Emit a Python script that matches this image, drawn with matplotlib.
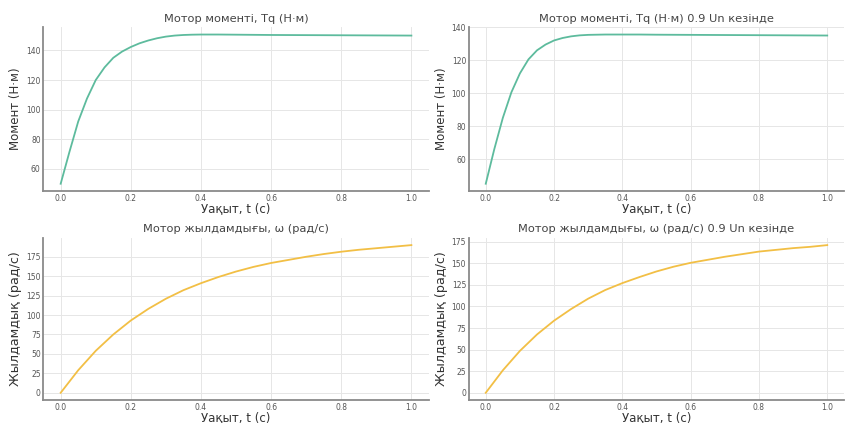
import numpy as np
import matplotlib
matplotlib.use("Agg")
import matplotlib.pyplot as plt

# --- Деректер (суреттен оқылған мәндер) ---
t_moment = [0.0, 0.025, 0.05, 0.075, 0.1, 0.125, 0.15, 0.175, 0.2, 0.225, 0.25,
            0.275, 0.3, 0.325, 0.35, 0.375, 0.4, 0.45, 0.5, 0.6, 0.7, 0.8, 0.9, 1.0]
moment_un = [50, 71.5, 92, 107.5, 120, 128.5, 135, 139.2, 142.3, 144.8, 146.7,
             148.2, 149.3, 150.0, 150.4, 150.6, 150.7, 150.7, 150.6, 150.4, 150.3,
             150.2, 150.1, 150.0]
moment_09 = [45, 66, 85, 100.5, 112, 120.5, 126, 129.5, 132, 133.5, 134.5,
             135.1, 135.4, 135.5, 135.6, 135.6, 135.6, 135.6, 135.5, 135.4, 135.3,
             135.2, 135.1, 135.0]

t_speed = [0.0, 0.05, 0.1, 0.15, 0.2, 0.25, 0.3, 0.35, 0.4, 0.45, 0.5,
           0.55, 0.6, 0.65, 0.7, 0.75, 0.8, 0.85, 0.9, 0.95, 1.0]
speed_un = [0, 29, 54, 75, 93, 108, 121, 132, 141, 149, 156,
            162, 167, 171, 175, 178.5, 181.5, 184, 186, 188, 190]
speed_09 = [0, 26, 48.5, 67.5, 83.5, 97, 109, 119, 127, 134, 140.5,
            146, 150.5, 154, 157.5, 160.5, 163.5, 165.5, 167.5, 169, 171]

TEAL = '#5dbb9d'
YELLOW = '#f2bf45'


def style_axes(ax, title, ylabel, yticks, ylabel_size):
    ax.set_title(title, fontsize=8.2, color='#444444', pad=4)
    ax.set_xlabel('Уақыт, t (с)', fontsize=8.5, color='#333333', labelpad=-0.3)
    ax.set_ylabel(ylabel, fontsize=ylabel_size, color='#333333', labelpad=3)
    ax.set_xticks([0.0, 0.2, 0.4, 0.6, 0.8, 1.0])
    ax.set_yticks(yticks)
    ax.tick_params(labelsize=5.5, colors='#555555', length=0, pad=1.8)
    ax.grid(True, color='#e6e6e6', linewidth=0.7)
    ax.set_axisbelow(True)
    for side in ['top', 'right']:
        ax.spines[side].set_visible(False)
    for side in ['left', 'bottom']:
        ax.spines[side].set_color('#8a8a8a')
        ax.spines[side].set_linewidth(1.3)


fig = plt.figure(figsize=(8.46, 4.23), dpi=100)

ax1 = fig.add_axes([0.051, 0.548, 0.456, 0.388])
ax2 = fig.add_axes([0.554, 0.548, 0.444, 0.388])
ax3 = fig.add_axes([0.051, 0.054, 0.456, 0.384])
ax4 = fig.add_axes([0.554, 0.054, 0.444, 0.384])

ax1.plot(t_moment, moment_un, color=TEAL, linewidth=1.3)
style_axes(ax1, 'Мотор моменті, Tq (Н·м)', 'Момент (Н·м)',
           [60, 80, 100, 120, 140], 8.5)

ax2.plot(t_moment, moment_09, color=TEAL, linewidth=1.3)
style_axes(ax2, 'Мотор моменті, Tq (Н·м) 0.9 Un кезінде', 'Момент (Н·м)',
           [60, 80, 100, 120, 140], 8.5)

ax3.plot(t_speed, speed_un, color=YELLOW, linewidth=1.3)
style_axes(ax3, 'Мотор жылдамдығы, ω (рад/с)', 'Жылдамдық (рад/с)',
           [0, 25, 50, 75, 100, 125, 150, 175], 9.2)

ax4.plot(t_speed, speed_09, color=YELLOW, linewidth=1.3)
style_axes(ax4, 'Мотор жылдамдығы, ω (рад/с) 0.9 Un кезінде', 'Жылдамдық (рад/с)',
           [0, 25, 50, 75, 100, 125, 150, 175], 9.2)

fig.savefig('out.png', dpi=100)
